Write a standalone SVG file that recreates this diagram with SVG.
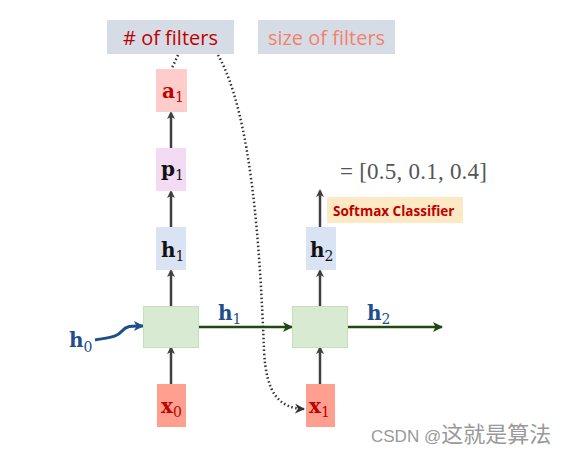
<svg xmlns="http://www.w3.org/2000/svg" width="567" height="454" viewBox="0 0 567 454">
<defs>
<style>
.math{font-family:"DejaVu Serif","Liberation Serif",serif;font-weight:bold;font-size:20px}
.sub{font-family:"DejaVu Serif","Liberation Serif",serif;font-weight:normal;font-size:14px}
.lbl{font-family:"Open Sans","Liberation Sans",sans-serif;font-size:20px}
.ar{stroke:#404040;stroke-width:2.5;fill:none;marker-end:url(#ga)}
.gr{stroke:#1e4a12;stroke-width:2.5;fill:none;marker-end:url(#gg)}
</style>
<marker id="ga" markerWidth="8" markerHeight="8" refX="6" refY="4" orient="auto" markerUnits="userSpaceOnUse"><path d="M0,0 L8,4 L0,8 L2,4 Z" fill="#404040"/></marker>
<marker id="gg" markerWidth="10" markerHeight="10" refX="9" refY="5" orient="auto" markerUnits="userSpaceOnUse"><path d="M0,0 L10,5 L0,10 L2.5,5 Z" fill="#1e4a12"/></marker>
<marker id="gb" markerWidth="10" markerHeight="10" refX="9" refY="5" orient="auto" markerUnits="userSpaceOnUse"><path d="M0,0 L10,5 L0,10 L2.5,5 Z" fill="#1f4e8c"/></marker>
<marker id="gd" markerWidth="10" markerHeight="10" refX="9" refY="5" orient="auto" markerUnits="userSpaceOnUse"><path d="M0,0 L10,5 L0,10 L3,5 Z" fill="#333"/></marker>
</defs>
<rect width="567" height="454" fill="#fff"/>

<g id="connectors">
<line class="ar" x1="171" y1="384" x2="171" y2="348"/>
<line class="ar" x1="171" y1="306" x2="171" y2="271"/>
<line class="ar" x1="171" y1="227" x2="171" y2="192"/>
<line class="ar" x1="171" y1="148" x2="171" y2="113"/>
<line class="ar" x1="320" y1="384" x2="320" y2="348"/>
<line class="ar" x1="320" y1="306" x2="320" y2="271"/>
<line class="ar" x1="320" y1="227" x2="320" y2="191"/>
<line class="gr" x1="199" y1="327" x2="292" y2="327"/>
<line class="gr" x1="348" y1="327" x2="442" y2="327"/>
<path d="M95,340 C112,337 117,337 122,331 C127,325 133,326 143,326" stroke="#1f4e8c" stroke-width="3" fill="none" marker-end="url(#gb)"/>
<path d="M178,55 L172,68" stroke="#333" stroke-width="2.5" stroke-dasharray="1.5 2.5" fill="none"/>
<path d="M218,55 C252,115 260,250 264,350 C266,395 280,408 304,409" stroke="#333" stroke-width="2.5" stroke-dasharray="1.5 2.5" fill="none" marker-end="url(#gd)"/>
</g>

<g id="num-filters">
<rect x="107" y="20" width="127" height="34" fill="#d6dce5"/>
<text class="lbl" x="170.5" y="45" text-anchor="middle" fill="#c00000">#&#160;of filters</text>
</g>
<g id="size-filters">
<rect x="258" y="20" width="137" height="34" fill="#d6dce5"/>
<text class="lbl" x="326.5" y="45" text-anchor="middle" fill="#f4806c">size of filters</text>
</g>

<g id="a1">
<rect x="156" y="69" width="31" height="43" fill="#ffcccc"/>
<text x="162" y="98" fill="#c00000"><tspan class="math">a</tspan><tspan class="sub" dy="4">1</tspan></text>
</g>
<g id="p1">
<rect x="156" y="148" width="30" height="43" fill="#f3dcf3"/>
<text x="161" y="176" fill="#111"><tspan class="math">p</tspan><tspan class="sub" dy="4">1</tspan></text>
</g>
<g id="h1">
<rect x="156" y="227" width="30" height="43" fill="#dae3f3"/>
<text x="161" y="257" fill="#111"><tspan class="math">h</tspan><tspan class="sub" dy="4">1</tspan></text>
</g>
<g id="cell1">
<rect x="143.5" y="306.5" width="55" height="41" fill="#d9ead3" stroke="#c5e0b4" stroke-width="1"/>
</g>
<g id="x0">
<rect x="157" y="384" width="29" height="43" fill="#ff9f8f"/>
<text x="161" y="413" fill="#c00000"><tspan class="math">x</tspan><tspan class="sub" dy="4">0</tspan></text>
</g>
<g id="h0">
<text x="69" y="347" fill="#1f4e8c"><tspan class="math">h</tspan><tspan class="sub" dy="5">0</tspan></text>
</g>
<g id="h1-label">
<text x="218" y="320" fill="#1f4e8c"><tspan class="math">h</tspan><tspan class="sub" dy="4">1</tspan></text>
</g>

<g id="h2">
<rect x="306" y="227" width="30" height="43" fill="#dae3f3"/>
<text x="310" y="257" fill="#111"><tspan class="math">h</tspan><tspan class="sub" dy="4">2</tspan></text>
</g>
<g id="cell2">
<rect x="292.5" y="306.5" width="55" height="41" fill="#d9ead3" stroke="#c5e0b4" stroke-width="1"/>
</g>
<g id="x1">
<rect x="306" y="384" width="29" height="43" fill="#ff9f8f"/>
<text x="309" y="413" fill="#c00000"><tspan class="math">x</tspan><tspan class="sub" dy="4">1</tspan></text>
</g>
<g id="h2-label">
<text x="367" y="320" fill="#1f4e8c"><tspan class="math">h</tspan><tspan class="sub" dy="4">2</tspan></text>
</g>

<g id="softmax">
<rect x="327" y="197" width="136" height="26" fill="#fde9c3"/>
<text x="333" y="215.5" font-family="'Open Sans','Liberation Sans',sans-serif" font-weight="bold" font-size="13.5" fill="#c00000">Softmax Classifier</text>
</g>
<g id="output">
<text x="340" y="179" font-family="'Liberation Serif','DejaVu Serif',serif" font-size="23" fill="#555" textLength="147" lengthAdjust="spacing">= [0.5, 0.1, 0.4]</text>
</g>

<text x="371" y="442" font-family="'Liberation Sans','Noto Sans CJK SC',sans-serif" font-size="17" fill="#999">CSDN @<tspan font-family="'Noto Sans CJK SC',sans-serif" font-size="22">这就是算法</tspan></text>
</svg>
